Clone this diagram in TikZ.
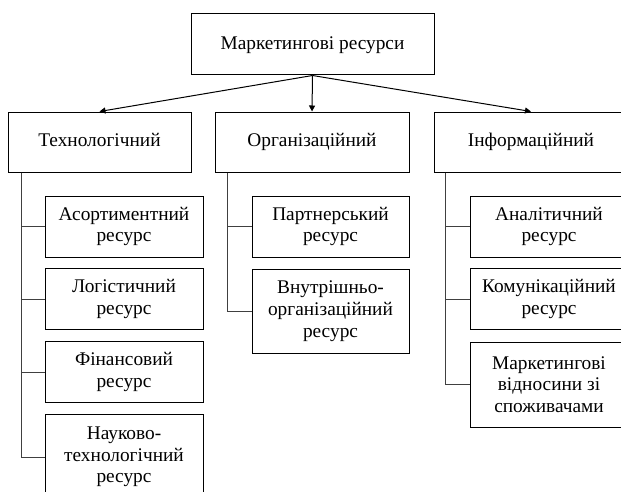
\documentclass[tikz,border=0pt]{standalone}
\usepackage{fontspec}
\setmainfont{Liberation Serif}
\usetikzlibrary{arrows.meta}
\tikzset{
  box/.style={draw, line width=0.75pt, align=center, inner sep=0pt,
    font=\fontsize{14.5}{16.3}\selectfont},
  head/.style={box, minimum width=145.5pt, minimum height=45pt,
    text height=10pt, text depth=3pt},
  item/.style={box, minimum width=118.5pt, minimum height=45.75pt},
  link/.style={line width=0.75pt, -{Triangle[length=4.5pt,width=4.5pt]}},
  bus/.style={line width=0.75pt, draw=black!75}
}
\begin{document}
\begin{tikzpicture}[x=0.75pt, y=-0.75pt]
  \useasboundingbox (0,0) rectangle (621,492);
  \node[head, minimum width=182.25pt, minimum height=45.75pt] (res) at (312.5,44.5) {Маркетингові ресурси};
  \node[head, minimum width=137.25pt] (tech) at (99.5,142) {Технологічний};
  \node[head] (org) at (312,142) {Організаційний};
  \node[head] (inf) at (531,142) {Інформаційний};
  \draw[link] (res.south) -- (tech.north);
  \draw[link] (res.south) -- (org.north);
  \draw[link] (res.south) -- (inf.north);

  \node[item] (t1) at (124,226.5) {Асортиментний\\ресурс};
  \node[item] (t2) at (124,299) {Логістичний\\ресурс};
  \node[item] (t3) at (124,372) {Фінансовий\\ресурс};
  \node[item, minimum height=64.5pt] (t4) at (124,457) {Науково-\\технологічний\\ресурс};
  \foreach \c in {t1,t2,t3,t4}
    \draw[bus] ([xshift=10.5pt]tech.south west) |- (\c.west);

  \node[item, minimum width=117.75pt] (o1) at (330.5,226.5) {Партнерський\\ресурс};
  \node[item, minimum width=117.75pt, minimum height=63pt] (o2) at (330.5,311) {Внутрішньо-\\організаційний\\ресурс};
  \foreach \c in {o1,o2}
    \draw[bus] ([xshift=9.75pt]org.south west) |- (\c.west);

  \node[item] (i1) at (549,226.5) {Аналітичний\\ресурс};
  \node[item] (i2) at (549,299) {Комунікаційний\\ресурс};
  \node[item, minimum height=63.75pt] (i3) at (549,384.5) {Маркетингові\\відносини зі\\споживачами};
  \foreach \c in {i1,i2,i3}
    \draw[bus] ([xshift=9pt]inf.south west) |- (\c.west);
\end{tikzpicture}
\end{document}
